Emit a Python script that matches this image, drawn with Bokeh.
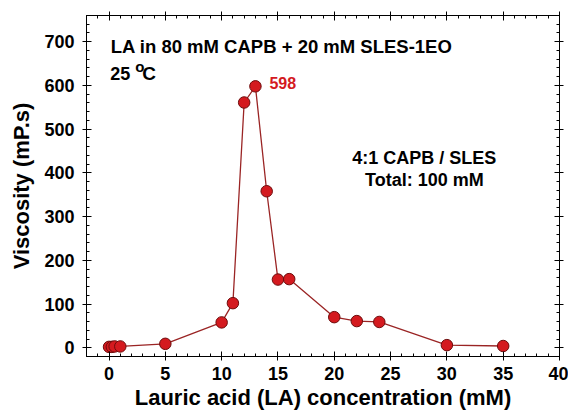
from bokeh.plotting import figure
from bokeh.models import (Range1d, LinearAxis, SingleIntervalTicker, Label,
                          ColumnDataSource, CustomLabelingPolicy)
from bokeh.embed import file_html
from bokeh.resources import INLINE

# Viscosity of 80 mM CAPB + 20 mM SLES-1EO with added lauric acid
la_conc = [0, 0.25, 0.5, 1, 5, 10, 11, 12, 13, 14, 15, 16, 20, 22, 24, 30, 35]
viscosity = [2, 2, 3, 3, 9, 58, 102, 561, 598, 358, 156, 157, 70, 61, 59, 6, 4]

peak_x = 13
peak_value = 598

FONT = "Liberation Sans"

p = figure(width=568, height=414, output_backend="svg", toolbar_location=None,
           x_range=Range1d(-2, 40), y_range=Range1d(-20, 760),
           min_border_left=86, min_border_right=9, min_border_top=15,
           min_border_bottom=58, background_fill_color="white",
           border_fill_color="white")
p.grid.visible = False
p.outline_line_color = "black"
p.outline_line_width = 1

# mirror axes on top/right carry ticks only
no_labels = CustomLabelingPolicy(code="""
    for (const i of indices) {
        indices.unset(i)
    }
    return indices
""")

def style_axis(ax, show_labels):
    ax.axis_line_color = "black"
    ax.axis_line_width = 1
    ax.major_tick_line_color = "black"
    ax.minor_tick_line_color = "black"
    ax.major_tick_in = 5
    ax.major_tick_out = 4
    ax.minor_tick_in = 3
    ax.minor_tick_out = 0
    ax.major_label_text_font = FONT
    ax.major_label_text_font_style = "bold"
    ax.major_label_text_color = "black"
    if show_labels:
        ax.major_label_text_font_size = "18px"
    else:
        ax.major_label_text_font_size = "1px"
        ax.major_label_standoff = 0
        ax.major_label_policy = no_labels

def style_title(ax, text, standoff):
    ax.axis_label = text
    ax.axis_label_text_font = FONT
    ax.axis_label_text_font_style = "bold"
    ax.axis_label_text_font_size = "22px"
    ax.axis_label_text_color = "black"
    ax.axis_label_standoff = standoff

xa = p.xaxis[0]
xa.ticker = SingleIntervalTicker(interval=5, num_minor_ticks=5)
style_axis(xa, True)
xa.major_label_standoff = 6
style_title(xa, "Lauric acid (LA) concentration (mM)", 2)

ya = p.yaxis[0]
ya.ticker = SingleIntervalTicker(interval=100, num_minor_ticks=5)
style_axis(ya, True)
ya.major_label_standoff = 8
style_title(ya, "Viscosity (mP.s)", 7)

top = LinearAxis(ticker=SingleIntervalTicker(interval=5, num_minor_ticks=5))
style_axis(top, False)
p.add_layout(top, "above")
right = LinearAxis(ticker=SingleIntervalTicker(interval=100, num_minor_ticks=5))
style_axis(right, False)
p.add_layout(right, "right")

src = ColumnDataSource(data=dict(x=la_conc, y=viscosity))
p.line("x", "y", source=src, line_color="#9a2424", line_width=1.3)
p.scatter("x", "y", source=src, size=11.5, fill_color="#d41a1f",
          line_color="#6e0c0c", line_width=1)

def add_text(x, y, text, size, color="black", align="left", baseline="alphabetic",
             x_offset=0, y_offset=0):
    p.add_layout(Label(x=x, y=y, text=text, text_font=FONT,
                       text_font_style="bold", text_font_size=size,
                       text_color=color, text_align=align,
                       text_baseline=baseline, x_offset=x_offset,
                       y_offset=y_offset))

add_text(0.15, 689, "LA in 80 mM CAPB + 20 mM SLES-1EO", "18.5px")
add_text(0.1, 627, "25", "18px")
add_text(0.1, 627, "o", "15px", x_offset=25, y_offset=7)
add_text(0.1, 627, "C", "19px", x_offset=32)
add_text(peak_x, peak_value, str(peak_value), "16px", color="#d41a1f",
         baseline="middle", x_offset=14, y_offset=3)
add_text(28, 433, "4:1 CAPB / SLES", "18px", align="center", baseline="middle")
add_text(28, 383, "Total: 100 mM", "18px", align="center", baseline="middle")

open("out.html", "w").write(file_html(p, INLINE))
